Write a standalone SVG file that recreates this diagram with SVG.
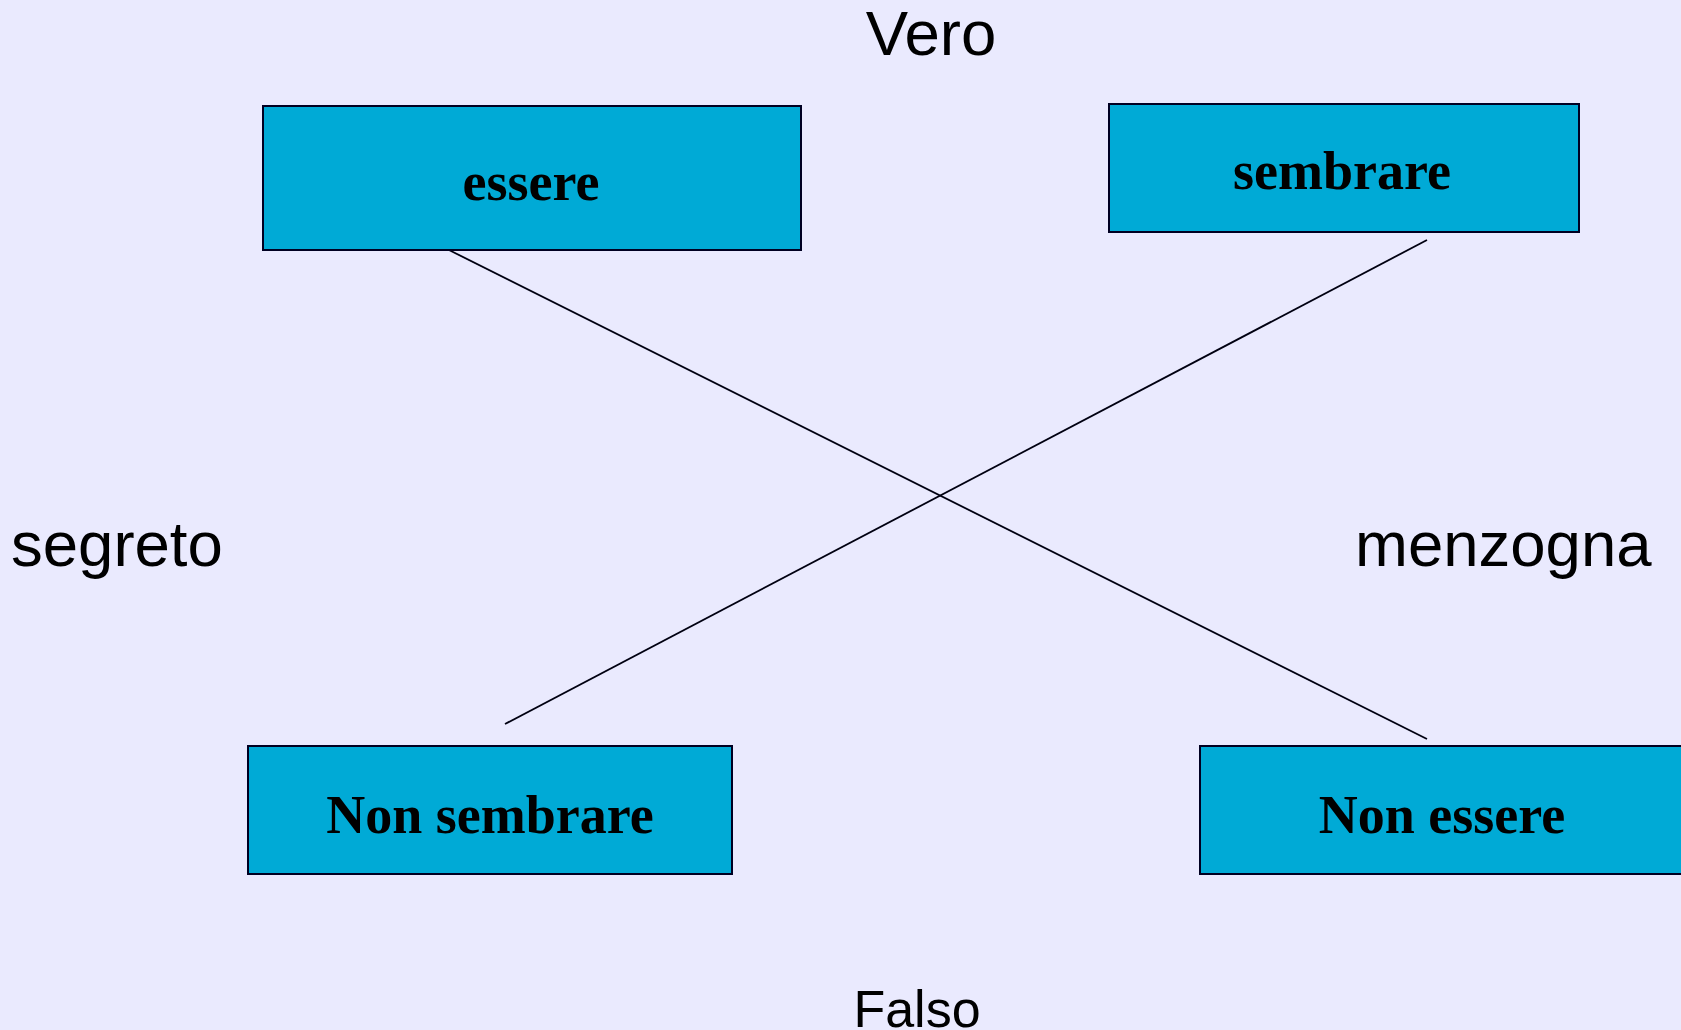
<svg xmlns="http://www.w3.org/2000/svg" width="1681" height="1030" viewBox="0 0 1681 1030">
  <style>
    .box { fill: #00AAD6; stroke: #000022; stroke-width: 2; }
    .boxlabel { font-family: "Liberation Serif", "Times New Roman", serif; font-weight: bold; font-size: 54px; fill: #000000; text-anchor: middle; }
    .side { font-family: "Liberation Sans", Arial, sans-serif; font-size: 63.5px; fill: #000000; }
    .link { stroke: #000011; stroke-width: 1.8; fill: none; }
  </style>
  <rect x="0" y="0" width="1681" height="1030" fill="#EAEAFE"/>

  <!-- axis labels -->
  <text class="side" x="931" y="55" text-anchor="middle">Vero</text>
  <text class="side" x="917" y="1027" text-anchor="middle" style="font-size:52px">Falso</text>
  <text class="side" x="11" y="566">segreto</text>
  <text class="side" x="1355" y="566">menzogna</text>

  <!-- connectors -->
  <g id="connectors">
    <line class="link" x1="449" y1="250" x2="1427" y2="739"/>
    <line class="link" x1="1427" y1="240" x2="505" y2="724"/>
  </g>

  <g id="node-essere">
    <rect class="box" x="263" y="106" width="538" height="144"/>
    <text class="boxlabel" x="531" y="200">essere</text>
  </g>
  <g id="node-sembrare">
    <rect class="box" x="1109" y="104" width="470" height="128"/>
    <text class="boxlabel" x="1342" y="189">sembrare</text>
  </g>
  <g id="node-non-sembrare">
    <rect class="box" x="248" y="746" width="484" height="128"/>
    <text class="boxlabel" x="490" y="833">Non sembrare</text>
  </g>
  <g id="node-non-essere">
    <rect class="box" x="1200" y="746" width="500" height="128"/>
    <text class="boxlabel" x="1442" y="833">Non essere</text>
  </g>
</svg>
